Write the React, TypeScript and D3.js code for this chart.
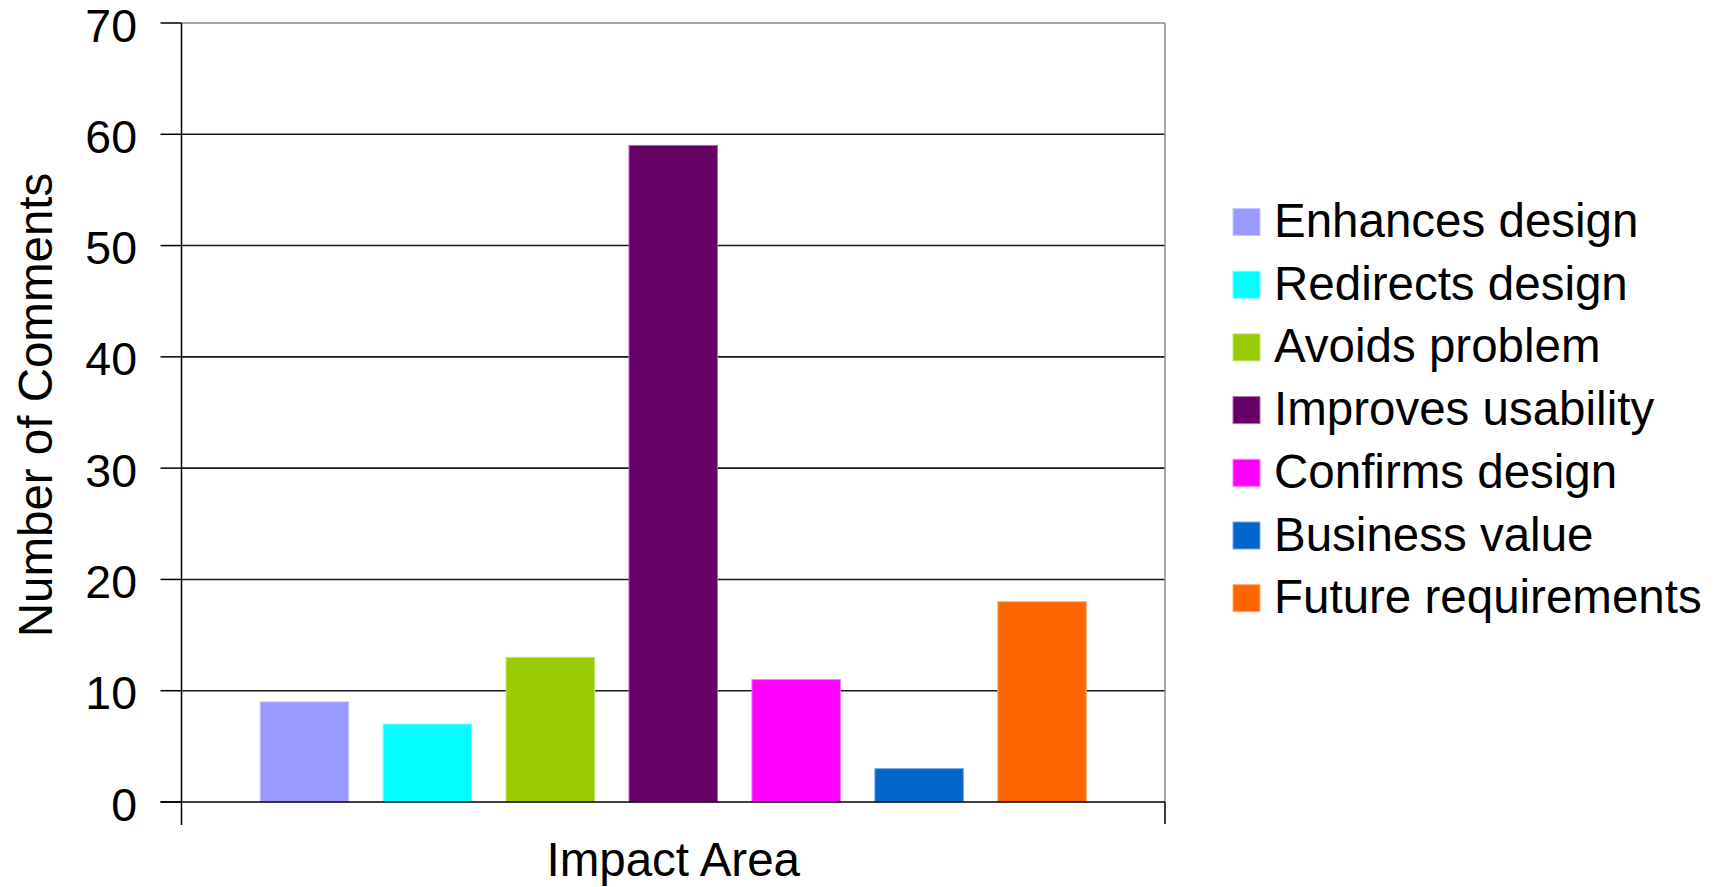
import React from "react";
import * as d3 from "d3";

const categories = [
  "Enhances design",
  "Redirects design",
  "Avoids problem",
  "Improves usability",
  "Confirms design",
  "Business value",
  "Future requirements",
];
const values = [9, 7, 13, 59, 11, 3, 18];
const colors = ["#9999FF", "#00FFFF", "#99CC00", "#660066", "#FF00FF", "#0066CC", "#FF6600"];
const yTicks = [0, 10, 20, 30, 40, 50, 60, 70];
const yTitle = "Number of Comments";
const xTitle = "Impact Area";

const W = 1721;
const H = 887;
const plot = { left: 181.5, right: 1165, top: 23, bottom: 802 };
const FONT = "'Liberation Sans', Arial, sans-serif";

export default function App() {
  const x = d3.scalePoint<string>().domain(categories).range([plot.left, plot.right]).padding(1);
  const y = d3.scaleLinear().domain([0, 70]).range([plot.bottom, plot.top]);
  const bw = x.step() * 0.72;

  const legendX = 1233;
  const legendY0 = 222;
  const legendStep = 62.7;
  const sw = 27;

  return (
    <svg
      width={W}
      height={H}
      style={{ position: "absolute", left: 0, top: 0, background: "#fff" }}
      fontFamily={FONT}
    >
      <rect x={0} y={0} width={W} height={H} fill="#fff" />
      {/* gridlines */}
      {yTicks.filter((t) => t > 0 && t < 70).map((t) => (
        <line key={"g" + t} x1={plot.left} x2={plot.right} y1={y(t)} y2={y(t)} stroke="#1a1a1a" strokeWidth={1.6} />
      ))}
      {/* plot border top/right */}
      <line x1={plot.left} x2={plot.right} y1={y(70)} y2={y(70)} stroke="#8a8a8a" strokeWidth={1.5} />
      <line x1={plot.right} x2={plot.right} y1={y(70)} y2={plot.bottom} stroke="#8a8a8a" strokeWidth={1.5} />
      {/* bars */}
      {categories.map((c, i) => (
        <rect
          key={c}
          x={(x(c) as number) - bw / 2}
          y={y(values[i])}
          width={bw}
          height={plot.bottom - y(values[i])}
          fill={colors[i]}
          stroke={d3.interpolateRgb(colors[i], "#ffffff")(0.45)}
          strokeWidth={1}
        />
      ))}
      {/* y axis */}
      <line x1={plot.left} x2={plot.left} y1={y(70)} y2={plot.bottom + 23} stroke="#000" strokeWidth={1.5} />
      {yTicks.map((t) => (
        <g key={"t" + t}>
          <line x1={plot.left - 21} x2={plot.left} y1={y(t)} y2={y(t)} stroke="#000" strokeWidth={1.5} />
          <text x={137} y={y(t)} dy="0.4em" textAnchor="end" fontSize={46.5} fill="#000">
            {t}
          </text>
        </g>
      ))}
      {/* x axis */}
      <line x1={plot.left - 21} x2={plot.right} y1={plot.bottom} y2={plot.bottom} stroke="#000" strokeWidth={1.6} />
      <line x1={plot.right} x2={plot.right} y1={plot.bottom} y2={plot.bottom + 22} stroke="#000" strokeWidth={1.5} />
      {/* titles */}
      <text x={(plot.left + plot.right) / 2} y={876} textAnchor="middle" fontSize={47.5} fill="#000">
        {xTitle}
      </text>
      <text
        transform={`translate(52,405) rotate(-90)`}
        textAnchor="middle"
        fontSize={47.5}
        fill="#000"
      >
        {yTitle}
      </text>
      {/* legend */}
      {categories.map((c, i) => {
        const cy = legendY0 + i * legendStep;
        return (
          <g key={"l" + c}>
            <rect
              x={legendX}
              y={cy - sw / 2}
              width={sw}
              height={sw}
              fill={colors[i]}
              stroke={d3.interpolateRgb(colors[i], "#ffffff")(0.45)}
              strokeWidth={1}
            />
            <text x={1274} y={cy + 15} fontSize={47.5} fill="#000">
              {c}
            </text>
          </g>
        );
      })}
    </svg>
  );
}
